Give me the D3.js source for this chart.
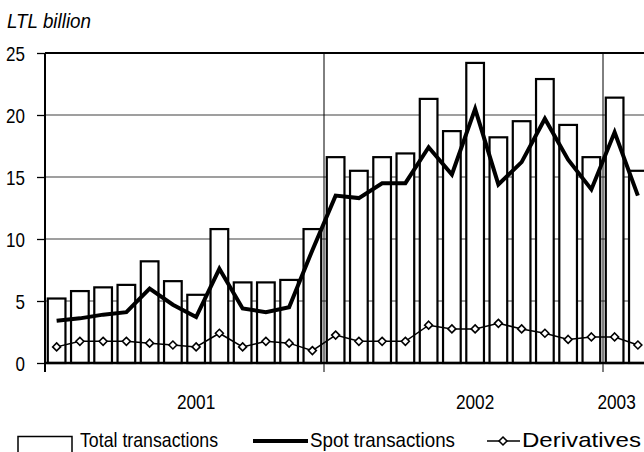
<!DOCTYPE html>
<html>
<head>
<meta charset="utf-8">
<script src="https://cdn.jsdelivr.net/npm/d3@7"></script>
<style>
html,body{margin:0;padding:0;background:#fff;overflow:hidden;}
svg{display:block;}
text{font-family:"Liberation Sans",Arial,sans-serif;fill:#000;}
</style>
</head>
<body>
<svg id="chart" width="644" height="452"></svg>
<script>
const months = ["2001-01","2001-02","2001-03","2001-04","2001-05","2001-06","2001-07","2001-08","2001-09","2001-10","2001-11","2001-12",
"2002-01","2002-02","2002-03","2002-04","2002-05","2002-06","2002-07","2002-08","2002-09","2002-10","2002-11","2002-12",
"2003-01","2003-02"];
const totalTransactions = [5.2,5.8,6.1,6.3,8.2,6.6,5.5,10.8,6.5,6.5,6.7,10.8,
16.6,15.5,16.6,16.9,21.3,18.7,24.2,18.2,19.5,22.9,19.2,16.6,
21.4,15.5];
const spotTransactions = [3.4,3.6,3.9,4.1,6.0,4.7,3.7,7.6,4.4,4.1,4.5,9.1,
13.5,13.3,14.5,14.5,17.4,15.2,20.5,14.4,16.2,19.7,16.4,14.0,
18.6,13.5];
const derivatives = [1.3,1.75,1.75,1.75,1.6,1.45,1.3,2.4,1.3,1.75,1.6,1.0,
2.25,1.75,1.75,1.75,3.05,2.75,2.75,3.2,2.75,2.4,1.9,2.1,
2.1,1.45];
const yTicks = [0,5,10,15,20,25];
const yearLabels = ["2001","2002","2003"];
const yearLabelMonths = ["2001-07","2002-07","2003-01"];
const yearBoundaries = ["2001-01","2002-01","2003-01"];

const svg = d3.select("#chart");
const pLeft = 45, pTop = 53, pBottom = 363;
const step = 23.25;
const pRight = pLeft + step*months.length;
const FS = 21;

const x = d3.scaleBand().domain(months).range([pLeft,pRight]).paddingInner(0.24).paddingOuter(0.12);
const xc = m => x(m) + x.bandwidth()/2;
const y = d3.scaleLinear().domain([0,25]).range([pBottom,pTop]);

function condense(sel, f){
  sel.each(function(){
    const w = this.getComputedTextLength();
    d3.select(this).attr("textLength", w*f).attr("lengthAdjust","spacingAndGlyphs");
  });
}

// horizontal gridlines
svg.append("g").selectAll("line").data(yTicks.filter(d=>d>0 && d<25)).join("line")
  .attr("x1",pLeft).attr("x2",pRight).attr("y1",d=>y(d)).attr("y2",d=>y(d))
  .attr("stroke","#7f7f7f").attr("stroke-width",1.3);

// vertical year gridlines
const bx = d => x(d) - x.step()*x.paddingInner()/2;
svg.append("g").selectAll("line").data(yearBoundaries.slice(1)).join("line")
  .attr("x1",d=>bx(d)).attr("x2",d=>bx(d))
  .attr("y1",pTop).attr("y2",pBottom+9)
  .attr("stroke","#000").attr("stroke-width",1);

// bars
svg.append("g").selectAll("rect").data(months).join("rect")
  .attr("x",d=>x(d)).attr("width",x.bandwidth())
  .attr("y",(d,i)=>y(totalTransactions[i])).attr("height",(d,i)=>y(0)-y(totalTransactions[i]))
  .attr("fill","#fff").attr("stroke","#000").attr("stroke-width",2.2);

// axes frame
svg.append("line").attr("x1",pLeft).attr("x2",pRight).attr("y1",pTop).attr("y2",pTop).attr("stroke","#000").attr("stroke-width",2);
svg.append("line").attr("x1",pLeft).attr("x2",pRight).attr("y1",pBottom).attr("y2",pBottom).attr("stroke","#000").attr("stroke-width",2.5);
svg.append("line").attr("x1",pLeft).attr("x2",pLeft).attr("y1",pTop).attr("y2",pBottom+9).attr("stroke","#000").attr("stroke-width",2);

// y axis
const yAxis = svg.append("g").attr("transform",`translate(${pLeft},0)`)
  .call(d3.axisLeft(y).tickValues(yTicks).tickSize(8).tickPadding(12));
yAxis.select(".domain").remove();
yAxis.selectAll(".tick line").attr("stroke","#000").attr("stroke-width",1.3);
yAxis.selectAll("text").attr("font-size",FS).attr("font-family","Liberation Sans, Arial, sans-serif").attr("dy","0.36em").call(condense,0.81);

// spot line
svg.append("path").datum(months)
  .attr("d", d3.line().x(d=>xc(d)).y((d,i)=>y(spotTransactions[i])))
  .attr("fill","none").attr("stroke","#000").attr("stroke-width",4).attr("stroke-linejoin","miter");

// derivatives line
svg.append("path").datum(months)
  .attr("d", d3.line().x(d=>xc(d)).y((d,i)=>y(derivatives[i])))
  .attr("fill","none").attr("stroke","#000").attr("stroke-width",1.5);
const diamond = d3.symbol().type(d3.symbolDiamond2).size(40);
svg.append("g").selectAll("path").data(months).join("path")
  .attr("d",diamond)
  .attr("transform",(d,i)=>`translate(${xc(d)},${y(derivatives[i])})`)
  .attr("fill","#fff").attr("stroke","#000").attr("stroke-width",1.6);

// year labels
svg.append("g").selectAll("text").data(yearLabels).join("text")
  .attr("x",(d,i)=> i===2 ? xc(yearLabelMonths[i])+2 : xc(yearLabelMonths[i]))
  .attr("y",409).attr("text-anchor","middle").attr("font-size",FS)
  .text(d=>d).call(condense,0.82);

// unit label
svg.append("text").attr("x",7).attr("y",28).attr("font-size",FS).attr("font-style","italic")
  .text("LTL billion").attr("textLength",84).attr("lengthAdjust","spacingAndGlyphs");

// legend
const LFS = 21;
const lg = svg.append("g");
lg.append("rect").attr("x",18).attr("y",436.5).attr("width",54).attr("height",30)
  .attr("fill","#fff").attr("stroke","#000").attr("stroke-width",1.5);
lg.append("text").attr("x",80).attr("y",447).attr("font-size",LFS).text("Total transactions")
  .attr("textLength",138).attr("lengthAdjust","spacingAndGlyphs");
lg.append("line").attr("x1",253).attr("x2",308).attr("y1",441).attr("y2",441).attr("stroke","#000").attr("stroke-width",4);
lg.append("text").attr("x",310).attr("y",447).attr("font-size",LFS).text("Spot transactions")
  .attr("textLength",145).attr("lengthAdjust","spacingAndGlyphs");
lg.append("line").attr("x1",487).attr("x2",520).attr("y1",441).attr("y2",441).attr("stroke","#000").attr("stroke-width",1.5);
lg.append("path").attr("d",diamond).attr("transform","translate(503,441)")
  .attr("fill","#fff").attr("stroke","#000").attr("stroke-width",1.6);
lg.append("text").attr("x",522).attr("y",447).attr("font-size",LFS).text("Derivatives")
  .attr("textLength",119).attr("lengthAdjust","spacingAndGlyphs");
</script>
</body>
</html>
